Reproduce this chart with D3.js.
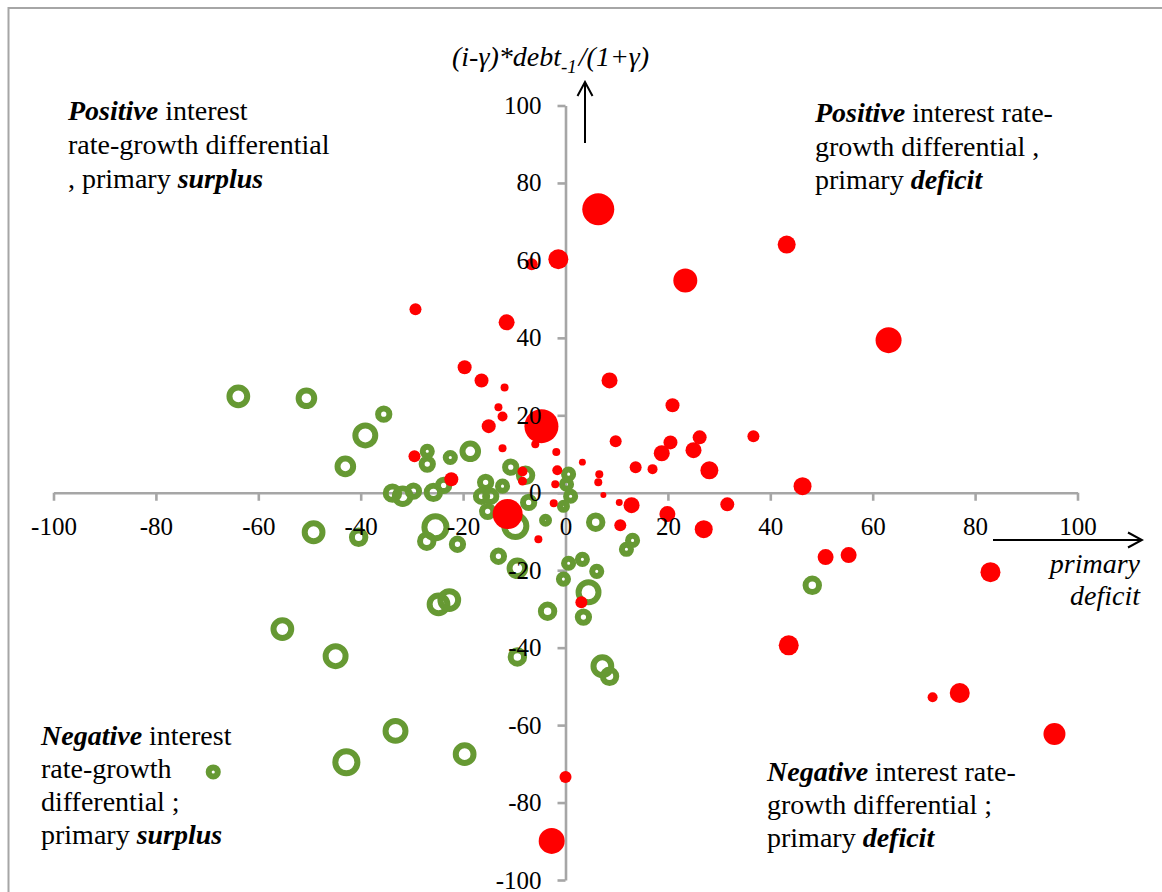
<!DOCTYPE html>
<html>
<head>
<meta charset="utf-8">
<script src="https://cdnjs.cloudflare.com/ajax/libs/d3/7.8.5/d3.min.js"></script>
<style>
  body { margin: 0; background: #fff; }
  text { font-family: "Liberation Serif", "Times New Roman", serif; fill: #000; }
</style>
</head>
<body>
<div id="scatter"></div>
<script>
// red bubbles (primary deficit side mostly)
var redX = [6.4, -1.4, -6.6, 43.2, 23.4, 63.1, -29.3, -11.5, -19.7, -16.4, -11.9, 8.6, 20.9, -13.1, -12.3,
  -15.0, -4.7, -5.9, -12.3, -1.8, -29.5, 3.3, -1.6, -8.4, -8.4, -2.0, -22.3, 6.6, 6.4, 7.4,
  -2.3, -11.3, 10.5, 10.7, -5.3, 9.8, 20.5, 26.2, 25.0, 18.8, 36.7, 28.1, 13.7, 17.0, 46.3,
  12.9, 31.6, 19.9, 27.0, 50.8, 55.3, 83.0, 43.6, 71.7, 77.0, 95.5, 0.0, -2.7, 3.1];
var redY = [73.2, 60.3, 59.0, 64.1, 54.8, 39.4, 47.4, 44.0, 32.4, 29.0, 27.2, 29.0, 22.6, 22.1, 19.7,
  17.2, 17.2, 12.5, 11.5, 10.5, 9.4, 7.9, 5.8, 5.5, 3.0, 2.2, 3.5, 4.8, 2.7, -0.6,
  -2.7, -5.5, -2.5, -8.4, -12.0, 13.3, 13.0, 14.3, 11.0, 10.2, 14.6, 5.8, 6.6, 6.1, 1.7,
  -3.2, -3.0, -5.5, -9.4, -16.6, -16.1, -20.5, -39.4, -52.8, -51.7, -62.3, -73.4, -89.9, -28.3];
var redSize = [256, 100, 36, 81, 144, 169, 36, 64, 49, 49, 16, 64, 49, 16, 25,
  49, 289, 16, 16, 16, 36, 12, 25, 25, 20, 16, 49, 16, 16, 9,
  16, 225, 12, 36, 16, 36, 49, 49, 64, 64, 36, 81, 36, 25, 81,
  64, 49, 64, 81, 64, 64, 100, 100, 25, 100, 121, 36, 169, 36];

// green rings
var greenX = [-63.9, -50.6, -35.5, -39.1, -43.0, -33.8, -31.8, -29.7, -25.8, -23.8, -27.0, -27.0, -22.5, -18.6, -15.6,
  -16.4, -14.6, -15.2, -12.3, -10.7, -7.8, -7.2, -9.8, 0.6, 0.2, 1.0, -0.4, -3.9, 5.9, -25.4,
  -27.1, -21.1, -13.1, -9.4, 11.9, 13.1, 0.6, 3.3, 6.1, -0.4, 4.5, -3.5, 3.5, -24.8, -22.7,
  -9.4, 7.2, 8.6, -49.2, -40.4, -55.3, -44.9, -33.2, -42.8, -19.7, -68.8, 48.2];
var greenY = [24.9, 24.4, 20.3, 14.8, 6.8, -0.1, -0.9, 0.4, 0.1, 1.9, 10.7, 7.4, 9.1, 10.7, 2.7,
  -0.9, -0.9, -4.8, 1.7, 6.6, 4.5, -2.5, -8.6, 4.8, 2.2, -0.9, -3.5, -7.1, -7.6, -8.9,
  -12.5, -13.3, -16.4, -19.5, -14.6, -12.3, -18.2, -17.2, -20.3, -22.3, -25.7, -30.6, -32.1, -28.8, -27.7,
  -42.4, -44.8, -47.4, -10.2, -11.5, -35.2, -42.2, -61.5, -69.6, -67.5, -72.1, -23.9];
var greenSize = [121, 100, 64, 144, 100, 81, 100, 64, 81, 64, 49, 64, 49, 100, 64,
  64, 64, 64, 49, 64, 81, 64, 169, 49, 49, 49, 36, 36, 81, 169,
  81, 64, 64, 100, 49, 49, 49, 49, 49, 49, 144, 81, 64, 121, 121,
  81, 121, 81, 121, 81, 121, 144, 144, 169, 121, 49, 81];

var xTicks = [-100, -80, -60, -40, -20, 0, 20, 40, 60, 80, 100];
var yTicks = [-100, -80, -60, -40, -20, 0, 20, 40, 60, 80, 100];

// quadrant notes: each line is a list of [text, emphasised]
var noteTopLeft = [[["Positive", true], [" interest", false]],
  [["rate-growth differential", false]],
  [[", primary ", false], ["surplus", true]]];
var noteTopRight = [[["Positive", true], [" interest rate-", false]],
  [["growth differential ,", false]],
  [["primary ", false], ["deficit", true]]];
var noteBottomLeft = [[["Negative", true], [" interest", false]],
  [["rate-growth", false]],
  [["differential ;", false]],
  [["primary ", false], ["surplus", true]]];
var noteBottomRight = [[["Negative", true], [" interest rate-", false]],
  [["growth differential ;", false]],
  [["primary ", false], ["deficit", true]]];

var svgWidth = 1162;
var svgHeight = 892;

var svg = d3.select("#scatter")
  .append("svg")
  .attr("width", svgWidth)
  .attr("height", svgHeight);

// chart border (runs off the right and bottom of the picture)
svg.append("rect")
  .attr("x", 8.5)
  .attr("y", 8)
  .attr("width", 1300)
  .attr("height", 1000)
  .attr("fill", "none")
  .attr("stroke", "#a6a6a6")
  .attr("stroke-width", 2);

var xScale = d3.scaleLinear().domain([-100, 100]).range([53.5, 1077.5]);
var yScale = d3.scaleLinear().domain([-100, 100]).range([880, 105.5]);
var rScale = d3.scaleSqrt().domain([0, 289]).range([0, 17]);

var axisGrey = "#a6a6a6";
var ringWidth = 6;

// axis lines and ticks first
var xAxisLines = svg.append("g")
  .attr("transform", `translate(0, ${yScale(0)})`)
  .call(d3.axisBottom(xScale).tickValues(xTicks).tickSize(8).tickSizeOuter(0).tickFormat(""));
var yAxisLines = svg.append("g")
  .attr("transform", `translate(${xScale(0)}, 0)`)
  .call(d3.axisLeft(yScale).tickValues(yTicks).tickSize(8).tickSizeOuter(0).tickFormat(""));

[xAxisLines, yAxisLines].forEach(function(g) {
  g.selectAll("path, line")
    .attr("stroke", axisGrey)
    .attr("stroke-width", 2.6);
});

// green rings (outer edge a bit beyond the bubble size)
var greenData = greenX.map((x, i) => ({x: x, y: greenY[i], s: greenSize[i]}))
  .sort((a, b) => b.s - a.s);
svg.append("g").selectAll("circle")
  .data(greenData)
  .enter()
  .append("circle")
  .attr("cx", d => xScale(d.x))
  .attr("cy", d => yScale(d.y))
  .attr("r", d => rScale(d.s) * 1.08 - ringWidth / 2)
  .attr("fill", "none")
  .attr("stroke", "#669933")
  .attr("stroke-width", ringWidth);

// red bubbles
var redData = redX.map((x, i) => ({x: x, y: redY[i], s: redSize[i]}))
  .sort((a, b) => b.s - a.s);
svg.append("g").selectAll("circle")
  .data(redData)
  .enter()
  .append("circle")
  .attr("cx", d => xScale(d.x))
  .attr("cy", d => yScale(d.y))
  .attr("r", d => rScale(d.s))
  .attr("fill", "#ff0000");

// tick labels on top of the bubbles
var xLabels = svg.append("g")
  .attr("transform", `translate(0, ${yScale(0)})`)
  .call(d3.axisBottom(xScale).tickValues(xTicks).tickSize(8).tickPadding(16).tickFormat(d => String(d)));
var yLabels = svg.append("g")
  .attr("transform", `translate(${xScale(0)}, 0)`)
  .call(d3.axisLeft(yScale).tickValues(yTicks).tickSize(8).tickPadding(16).tickFormat(d => String(d)));

[xLabels, yLabels].forEach(function(g) {
  g.selectAll("path, line").remove();
  g.selectAll("text")
    .attr("fill", "#000")
    .style("font-family", "'Liberation Serif', 'Times New Roman', serif")
    .style("font-size", "25px");
});

// arrows
var defs = svg.append("defs");
defs.append("marker")
  .attr("id", "head")
  .attr("markerUnits", "userSpaceOnUse")
  .attr("viewBox", "0 -9 18 18")
  .attr("refX", 16)
  .attr("refY", 0)
  .attr("markerWidth", 18)
  .attr("markerHeight", 18)
  .attr("orient", "auto")
  .append("path")
  .attr("d", "M2,-7.5L16,0L2,7.5")
  .attr("fill", "none")
  .attr("stroke", "#000")
  .attr("stroke-width", 2);

svg.append("line")
  .attr("x1", 585).attr("y1", 143)
  .attr("x2", 585).attr("y2", 82)
  .attr("stroke", "#000")
  .attr("stroke-width", 2)
  .attr("marker-end", "url(#head)");

svg.append("line")
  .attr("x1", 993).attr("y1", 540)
  .attr("x2", 1142).attr("y2", 540)
  .attr("stroke", "#000")
  .attr("stroke-width", 2)
  .attr("marker-end", "url(#head)");

// y axis title
var yTitle = svg.append("text")
  .attr("x", 452)
  .attr("y", 66)
  .style("font-size", "28px")
  .style("font-style", "italic");
yTitle.append("tspan").text("(i-γ)*debt");
yTitle.append("tspan").attr("dy", 7).style("font-size", "19px").text("-1");
yTitle.append("tspan").attr("dx", 2).attr("dy", -7).text("/(1+γ)");

// x axis title
svg.append("text")
  .attr("x", 1140)
  .attr("y", 573)
  .attr("text-anchor", "end")
  .style("font-size", "28px")
  .style("font-style", "italic")
  .text("primary");
svg.append("text")
  .attr("x", 1140)
  .attr("y", 605)
  .attr("text-anchor", "end")
  .style("font-size", "28px")
  .style("font-style", "italic")
  .text("deficit");

// quadrant notes
function drawNote(lines, x, y0, step) {
  lines.forEach(function(line, i) {
    var t = svg.append("text")
      .attr("x", x)
      .attr("y", y0 + i * step)
      .style("font-size", "28px");
    line.forEach(function(seg) {
      t.append("tspan")
        .style("font-weight", seg[1] ? "bold" : "normal")
        .style("font-style", seg[1] ? "italic" : "normal")
        .text(seg[0]);
    });
  });
}

drawNote(noteTopLeft, 68, 120, 34);
drawNote(noteTopRight, 815, 122, 33.5);
drawNote(noteBottomLeft, 41, 745, 33);
drawNote(noteBottomRight, 767, 781, 33);
</script>
</body>
</html>
